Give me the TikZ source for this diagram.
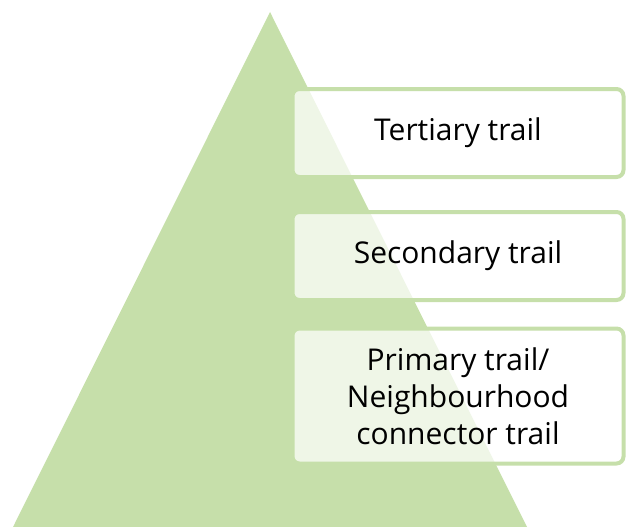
\documentclass[tikz,border=0pt]{standalone}
\usepackage{fontspec}
\setmainfont{Open Sans}
\usepackage{tikz}

\definecolor{leaf}{HTML}{C6DFAA}

\tikzset{
  trailbox/.style={draw=leaf, line width=4pt, rounded corners=7pt,
    fill=white, fill opacity=0.72, text opacity=1,
    minimum width=331pt, align=center,
    font=\fontsize{30}{37}\selectfont}
}

\begin{document}
\begin{tikzpicture}[x=1pt, y=-1pt]
				            \useasboundingbox (0,0) rectangle (626,527);

				            % the pyramid
				            \fill[leaf] (270,12) -- (527,527) -- (13,527) -- cycle;

				            \node[trailbox, minimum height=88pt] (tertiary) at (458,133) {Tertiary trail};
				            \node[trailbox, minimum height=88pt] (secondary) at (458,256) {Secondary trail};
				            \node[trailbox, minimum height=135pt] (primary) at (458,396)
				            {Primary trail/\\Neighbourhood\\connector trail};
			            \end{tikzpicture}
\end{document}
